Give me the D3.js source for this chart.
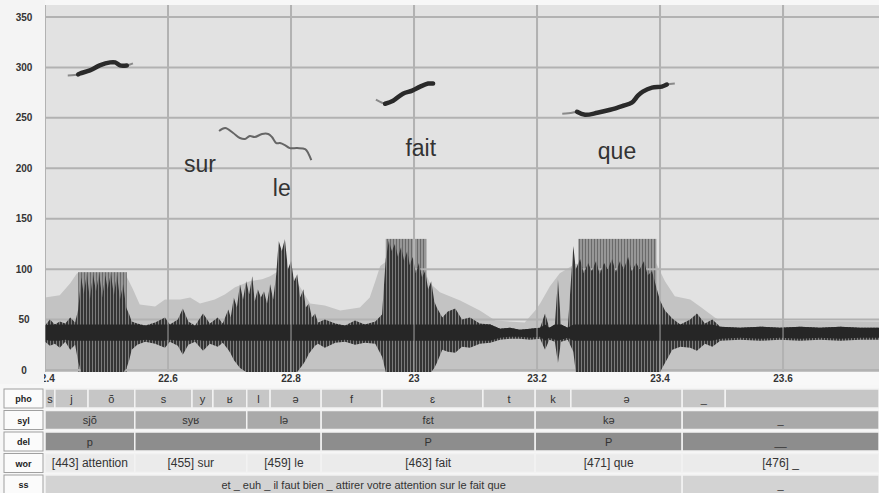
<!DOCTYPE html>
<html>
<head>
<meta charset="utf-8">
<script src="https://cdn.jsdelivr.net/npm/d3@7"></script>
<style>
body { margin: 0; background: #f7f7f7; }
svg { display: block; font-family: "Liberation Sans", Arial, sans-serif; }
</style>
</head>
<body>
<div id="chart"></div>
<script>
// axis ticks
var yTicks = [0, 50, 100, 150, 200, 250, 300, 350];
var xTicks = [22.4, 22.6, 22.8, 23, 23.2, 23.4, 23.6];

// intensity curve (light grey area)
var intT = [22.400, 22.424, 22.441, 22.452, 22.530, 22.543, 22.554, 22.579, 22.595, 22.620, 22.636, 22.652, 22.676, 22.693, 22.709, 22.733, 22.753, 22.766, 22.782, 22.798, 22.815, 22.831, 22.855, 22.880, 22.912, 22.928, 22.937, 22.945, 22.956, 23.010, 23.026, 23.042, 23.075, 23.107, 23.132, 23.180, 23.197, 23.205, 23.221, 23.237, 23.262, 23.302, 23.392, 23.408, 23.424, 23.449, 23.465, 23.489, 23.498, 23.756];
var intV = [72, 74, 86, 96, 96, 80, 65, 63, 70, 70, 72, 66, 70, 75, 82, 88, 90, 93, 99, 98, 82, 66, 64, 59, 62, 72, 88, 103, 108, 108, 86, 77, 69, 59, 49, 47, 59, 66, 83, 96, 105, 108, 108, 88, 73, 70, 63, 52, 49, 48];

// waveform envelope (top / bottom)
var waveT = [
  22.400, 22.408, 22.416, 22.424, 22.433, 22.441, 22.449,
  22.454, 22.459, 22.463, 22.468, 22.473, 22.478, 22.483, 22.488, 22.493, 22.498, 22.502, 22.507, 22.512, 22.517, 22.522, 22.527, 22.532, 22.537, 22.541,
  22.550, 22.563, 22.579, 22.595, 22.603, 22.616, 22.624, 22.633, 22.644, 22.657, 22.668, 22.681, 22.689,
  22.698, 22.702, 22.707, 22.712, 22.717, 22.722, 22.727, 22.732, 22.737, 22.741, 22.746, 22.751, 22.756, 22.761, 22.766, 22.771, 22.776, 22.780, 22.785, 22.790, 22.795, 22.800, 22.805, 22.810, 22.815, 22.820, 22.824, 22.829, 22.834, 22.839, 22.844,
  22.855, 22.872, 22.888, 22.904, 22.920, 22.937, 22.948,
  22.954, 22.959, 22.964, 22.969, 22.974, 22.979, 22.984, 22.989, 22.993, 22.998, 23.003, 23.008, 23.013, 23.018, 23.023, 23.028, 23.033, 23.037,
  23.046, 23.055, 23.067, 23.078, 23.091, 23.107, 23.124, 23.140, 23.156, 23.172, 23.189, 23.205, 23.213, 23.220, 23.229, 23.234, 23.239, 23.250, 23.259,
  23.263, 23.270, 23.276, 23.283, 23.289, 23.296, 23.302, 23.309, 23.315, 23.322, 23.328, 23.335, 23.341, 23.348, 23.354, 23.361, 23.367, 23.374, 23.380, 23.387, 23.393, 23.400,
  23.408, 23.420, 23.433, 23.449, 23.460, 23.473, 23.485, 23.498, 23.530, 23.563, 23.595, 23.628, 23.660, 23.693, 23.725, 23.756
];
var waveTop = [
  44, 50, 45, 48, 46, 52, 47,
  60, 92, 75, 96, 70, 95, 78, 96, 72, 94, 80, 96, 74, 95, 70, 85, 62, 55, 48,
  46, 44, 47, 52, 45, 50, 61, 48, 44, 56, 46, 52, 46,
  60, 52, 72, 62, 85, 70, 88, 75, 93, 68, 80, 72, 78, 66, 85, 70, 95, 128, 118, 130, 100, 108, 88, 95, 72, 80, 62, 66, 52, 56, 47,
  50, 46, 44, 49, 45, 48, 55,
  110, 128, 118, 125, 112, 122, 108, 118, 104, 112, 96, 106, 92, 98, 80, 88, 68, 62,
  52, 58, 61, 50, 52, 46, 45, 41, 42, 40, 41, 42, 56, 42, 45, 90, 45, 42, 123,
  100, 110, 96, 106, 98, 108, 95, 106, 100, 110, 97, 108, 100, 112, 98, 106, 100, 108, 94, 98, 84, 69,
  59, 51, 45, 50, 56, 46, 50, 43, 42, 43, 42, 43, 42, 43, 42, 42
];
var waveBot = [
  30, 26, 28, 24, 30, 22, 27,
  10, 0, 0, 0, 0, 0, 0, 0, 0, 0, 0, 0, 0, 0, 0, 0, 3, 12, 22,
  27, 30, 28, 24, 30, 26, 17, 27, 30, 21, 28, 25, 29,
  22, 18, 12, 8, 4, 2, 0, 0, 0, 0, 0, 0, 0, 0, 0, 0, 0, 0, 0, 0, 0, 0, 0, 0, 4, 8, 12, 18, 22, 26, 28,
  24, 29, 30, 27, 29, 28, 15,
  0, 0, 0, 0, 0, 0, 0, 0, 0, 0, 0, 0, 0, 0, 0, 0, 4, 9,
  22, 20, 19, 25, 24, 28, 29, 32, 33, 33, 32, 33, 22, 32, 30, 9, 30, 32, 20,
  0, 0, 0, 0, 0, 0, 0, 0, 0, 0, 0, 0, 0, 0, 0, 0, 0, 0, 0, 0, 0, 0,
  9, 22, 25, 24, 21, 28, 25, 31, 32, 31, 32, 31, 32, 31, 32, 32
];

// clipped (saturated) voiced stretches
var clipStart = [22.454, 22.954, 23.267];
var clipEnd = [22.533, 23.020, 23.394];
var clipTop = [97, 130, 130];

// pitch curves; strong = drawn thick
var pitchT = [
  [22.437, 22.454, 22.457, 22.473, 22.489, 22.506, 22.514, 22.522, 22.533, 22.543],
  [22.683, 22.693, 22.706, 22.717, 22.725, 22.733, 22.741, 22.753, 22.763, 22.769, 22.776, 22.782, 22.790, 22.798, 22.810, 22.823, 22.828, 22.833],
  [22.938, 22.948, 22.953, 22.966, 22.982, 22.997, 23.010, 23.023, 23.031],
  [23.241, 23.257, 23.265, 23.278, 23.298, 23.319, 23.340, 23.354, 23.364, 23.372, 23.387, 23.403, 23.411, 23.424]
];
var pitchV = [
  [292, 293, 294, 297, 302, 305, 305, 302, 302, 304],
  [237, 240, 235, 230, 229, 232, 231, 234, 234, 231, 225, 225, 223, 220, 220, 219, 215, 208],
  [268, 265, 264, 267, 274, 277, 281, 284, 284],
  [254, 255, 256, 253, 255, 258, 262, 265, 272, 276, 280, 281, 283, 284]
];
var pitchStrong = [
  [0, 1, 1, 1, 1, 1, 1, 1, 1, 0],
  [0, 0, 0, 0, 0, 0, 0, 0, 0, 0, 0, 0, 0, 0, 0, 0, 0, 0],
  [0, 0, 1, 1, 1, 1, 1, 1, 1],
  [0, 0, 1, 1, 1, 1, 1, 1, 1, 1, 1, 1, 1, 0]
];

// words written on the pitch track
var wordText = ["sur", "le", "fait", "que"];
var wordT = [22.652, 22.785, 23.011, 23.330];
var wordV = [196, 173, 212, 209];

// annotation tiers
var tierNames = ["pho", "syl", "del", "wor", "ss"];
var phoB = [22.400, 22.416, 22.470, 22.546, 22.639, 22.673, 22.728, 22.766, 22.849, 22.948, 23.112, 23.197, 23.255, 23.436, 23.506, 23.756];
var phoL = ["s", "j", "õ", "s", "y", "ʁ", "l", "ə", "f", "ɛ", "t", "k", "ə", "_", ""];
var sylB = [22.400, 22.546, 22.728, 22.849, 23.197, 23.436, 23.756];
var sylL = ["sjõ", "syʁ", "lə", "fɛt", "kə", "_"];
var delB = [22.400, 22.546, 22.849, 23.197, 23.436, 23.756];
var delL = ["p", "", "P", "P", "__"];
var worB = [22.400, 22.546, 22.728, 22.849, 23.197, 23.436, 23.756];
var worL = ["[443] attention", "[455] sur", "[459] le", "[463] fait", "[471] que", "[476] _"];
var ssB = [22.400, 23.436, 23.756];
var ssL = ["et _ euh _ il faut bien _ attirer votre attention sur le fait que", "_"];

var W = 879, H = 493;
var pLeft = 45, pRight = 879, pTop = 5, pBottom = 372;

var svg = d3.select("#chart").append("svg")
  .attr("width", W)
  .attr("height", H);

var x = d3.scaleLinear().domain([22.4, 23.756]).range([pLeft, pRight]);
var y = d3.scaleLinear().domain([0, 350]).range([370, 17]);

var defs = svg.append("defs");
defs.append("clipPath").attr("id", "plotClip")
  .append("rect").attr("x", pLeft).attr("y", pTop).attr("width", pRight - pLeft).attr("height", pBottom - pTop);
defs.append("clipPath").attr("id", "axisClip")
  .append("rect").attr("x", pLeft - 1).attr("y", pBottom).attr("width", pRight - pLeft + 1).attr("height", 14);

// striped fills
var blockPat = defs.append("pattern").attr("id", "blockPat")
  .attr("patternUnits", "userSpaceOnUse").attr("width", 3).attr("height", 10);
blockPat.append("rect").attr("width", 3).attr("height", 10).attr("fill", "#979797");
blockPat.append("rect").attr("width", 1).attr("height", 10).attr("fill", "#6a6a6a");

var wavePat = defs.append("pattern").attr("id", "wavePat")
  .attr("patternUnits", "userSpaceOnUse").attr("width", 3).attr("height", 10);
wavePat.append("rect").attr("width", 3).attr("height", 10).attr("fill", "#353535");
wavePat.append("rect").attr("x", 2).attr("width", 1).attr("height", 10).attr("fill", "#7c7c7c");

// left column + plot background
svg.append("rect").attr("x", 0).attr("y", 0).attr("width", pLeft).attr("height", pBottom + 12).attr("fill", "#f4f4f4");
svg.append("rect").attr("x", pLeft).attr("y", pTop).attr("width", pRight - pLeft).attr("height", pBottom - pTop).attr("fill", "#e2e2e2");

var plot = svg.append("g").attr("clip-path", "url(#plotClip)");

// intensity
var intData = intT.map(function(t, i) { return [t, intV[i]]; });
plot.append("path")
  .datum(intData)
  .attr("fill", "#c3c3c3")
  .attr("d", d3.area()
    .x(function(d) { return x(d[0]); })
    .y0(pBottom)
    .y1(function(d) { return y(d[1]); }));

// saturated blocks
var clips = clipStart.map(function(s, i) { return {s: s, e: clipEnd[i], v: clipTop[i]}; });
plot.selectAll(".clip")
  .data(clips)
  .enter().append("rect")
  .attr("x", function(d) { return x(d.s); })
  .attr("width", function(d) { return x(d.e) - x(d.s); })
  .attr("y", function(d) { return y(d.v); })
  .attr("height", function(d) { return pBottom - y(d.v); })
  .attr("fill", "url(#blockPat)");

// gridlines
plot.append("g")
  .selectAll("line")
  .data(yTicks)
  .enter().append("line")
  .attr("x1", pLeft).attr("x2", pRight)
  .attr("y1", function(d) { return y(d); })
  .attr("y2", function(d) { return y(d); })
  .attr("stroke", "#b2b2b2")
  .attr("stroke-width", 2);
plot.append("g")
  .selectAll("line")
  .data(xTicks)
  .enter().append("line")
  .attr("x1", function(d) { return x(d); })
  .attr("x2", function(d) { return x(d); })
  .attr("y1", pTop).attr("y2", pBottom)
  .attr("stroke", "#b2b2b2")
  .attr("stroke-width", 2);

// waveform: striped envelope + dark core
var waveData = waveT.map(function(t, i) { return [t, waveTop[i], waveBot[i]]; });
plot.append("path")
  .datum(waveData)
  .attr("fill", "url(#wavePat)")
  .attr("d", d3.area()
    .x(function(d) { return x(d[0]); })
    .y0(function(d) { return Math.min(pBottom, y(d[2]) + 2); })
    .y1(function(d) { return y(d[1]); }));
plot.append("path")
  .datum(waveData)
  .attr("fill", "#262626")
  .attr("d", d3.area()
    .x(function(d) { return x(d[0]); })
    .y0(function(d) { return y(Math.max(d[2], 29)); })
    .y1(function(d) { return y(Math.min(d[1], 45)); }));

// vertical gridlines show through the signal
plot.append("g")
  .selectAll("line")
  .data(xTicks)
  .enter().append("line")
  .attr("x1", function(d) { return x(d); })
  .attr("x2", function(d) { return x(d); })
  .attr("y1", pTop).attr("y2", pBottom)
  .attr("stroke", "#b2b2b2")
  .attr("stroke-width", 1.5)
  .attr("opacity", 0.6);

// pitch
pitchT.forEach(function(ts, k) {
  var pts = ts.map(function(t, i) { return {t: t, v: pitchV[k][i], s: pitchStrong[k][i]}; });
  var line = d3.line()
    .x(function(d) { return x(d.t); })
    .y(function(d) { return y(d.v); })
    .curve(d3.curveCatmullRom);
  plot.append("path")
    .datum(pts)
    .attr("fill", "none")
    .attr("stroke", k == 1 ? "#666" : "#8a8a8a")
    .attr("stroke-width", 2)
    .attr("d", line);
  plot.append("path")
    .datum(pts)
    .attr("fill", "none")
    .attr("stroke", "#2a2a2a")
    .attr("stroke-width", 4.5)
    .attr("stroke-linecap", "round")
    .attr("d", line.defined(function(d) { return d.s == 1; }));
});

// word labels
plot.selectAll(".word")
  .data(wordText)
  .enter().append("text")
  .attr("x", function(d, i) { return x(wordT[i]); })
  .attr("y", function(d, i) { return y(wordV[i]); })
  .attr("text-anchor", "middle")
  .attr("font-size", 23)
  .attr("fill", "#333")
  .text(function(d) { return d; });

// y tick labels
svg.append("g")
  .selectAll("text")
  .data(yTicks)
  .enter().append("text")
  .attr("x", 24)
  .attr("y", function(d) { return y(d) + 3.5; })
  .attr("text-anchor", "middle")
  .attr("font-size", 10)
  .attr("font-weight", "bold")
  .attr("fill", "#333")
  .text(function(d) { return d; });

// x tick labels
svg.append("rect").attr("x", pLeft).attr("y", pBottom).attr("width", pRight - pLeft).attr("height", 13).attr("fill", "#f8f8f8");
svg.append("g")
  .attr("clip-path", "url(#axisClip)")
  .selectAll("text")
  .data(xTicks)
  .enter().append("text")
  .attr("x", function(d) { return x(d); })
  .attr("y", pBottom + 10)
  .attr("text-anchor", "middle")
  .attr("font-size", 10)
  .attr("font-weight", "bold")
  .attr("fill", "#333")
  .text(function(d) { return d; });

// tiers
var tiers = [
  {b: phoB, l: phoL, c: "#c6c6c6", fs: 11},
  {b: sylB, l: sylL, c: "#a9a9a9", fs: 11},
  {b: delB, l: delL, c: "#8d8d8d", fs: 11},
  {b: worB, l: worL, c: "#ebebeb", fs: 12},
  {b: ssB, l: ssL, c: "#d3d3d3", fs: 11}
];
var rowTop = 389, rowH = 19, rowGap = 2.5;

tiers.forEach(function(tier, r) {
  var ty = rowTop + r * (rowH + rowGap);
  var g = svg.append("g");
  g.append("rect")
    .attr("x", 4).attr("y", ty).attr("width", 39).attr("height", rowH)
    .attr("fill", "#fbfbfb").attr("stroke", "#a0a0a0");
  g.append("text")
    .attr("x", 23.5).attr("y", ty + 13)
    .attr("text-anchor", "middle")
    .attr("font-size", 9)
    .attr("font-weight", "bold")
    .attr("fill", "#222")
    .text(tierNames[r]);
  var cells = tier.l.map(function(lab, i) { return {s: tier.b[i], e: tier.b[i + 1], lab: lab}; });
  g.selectAll(".cell")
    .data(cells)
    .enter().append("rect")
    .attr("x", function(d) { return x(d.s); })
    .attr("width", function(d) { return x(d.e) - x(d.s); })
    .attr("y", ty).attr("height", rowH)
    .attr("fill", tier.c)
    .attr("stroke", "#f2f2f2")
    .attr("stroke-width", 1.5);
  g.selectAll(".lab")
    .data(cells)
    .enter().append("text")
    .attr("x", function(d) { return (x(d.s) + x(d.e)) / 2; })
    .attr("y", ty + 13.5)
    .attr("text-anchor", "middle")
    .attr("font-size", tier.fs)
    .attr("fill", "#333")
    .text(function(d) { return d.lab; });
});
</script>
</body>
</html>
